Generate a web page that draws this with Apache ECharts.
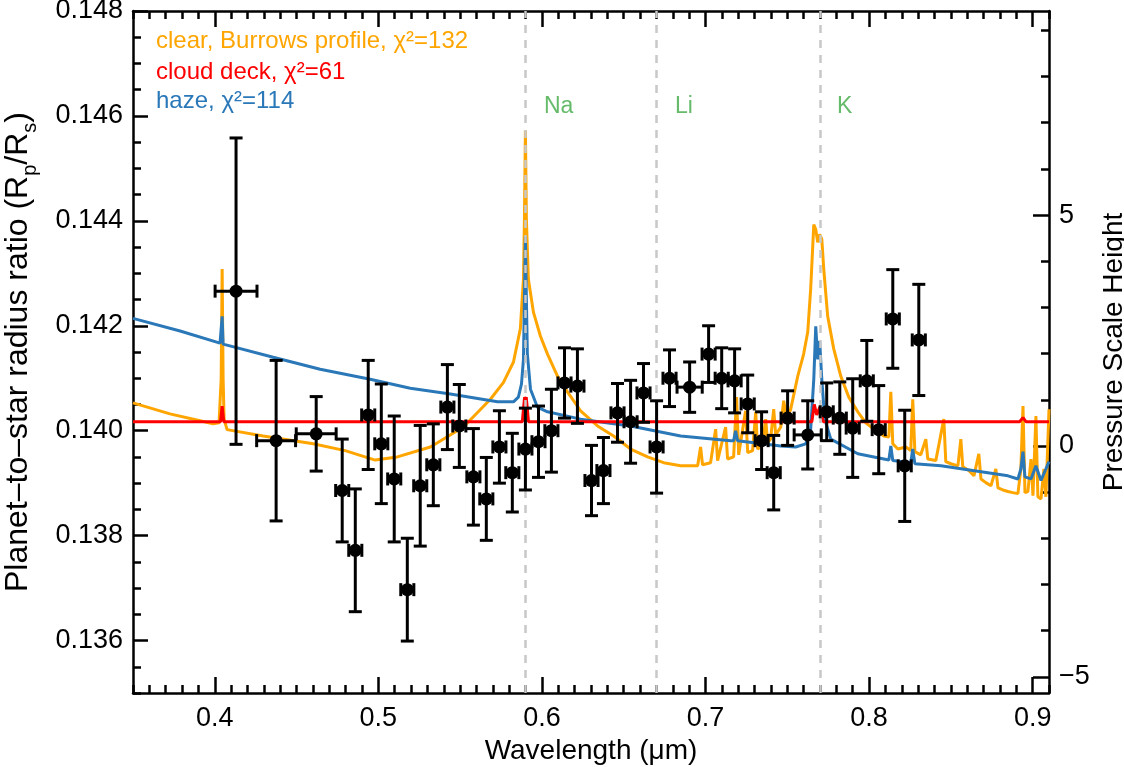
<!DOCTYPE html>
<html>
<head>
<meta charset="utf-8">
<script src="https://cdn.jsdelivr.net/npm/echarts@6/dist/echarts.min.js"></script>
<style>
html, body { margin: 0; padding: 0; background: #fff; }
#chart { width: 1124px; height: 767px; }
</style>
</head>
<body>
<div id="chart"></div>
<script>
// measured radius ratios (black points)
var wl = [0.4130, 0.4375, 0.4620, 0.4779, 0.4859, 0.4938, 0.5018, 0.5097, 0.5177, 0.5256,
  0.5336, 0.5422, 0.5495, 0.5581, 0.5660, 0.5740, 0.5819, 0.5899, 0.5979, 0.6058,
  0.6138, 0.6217, 0.6303, 0.6376, 0.6462, 0.6542, 0.6621, 0.6701, 0.6780, 0.6903,
  0.7019, 0.7099, 0.7178, 0.7258, 0.7343, 0.7417, 0.7502, 0.7625, 0.7741, 0.7821,
  0.7900, 0.7986, 0.8059, 0.8145, 0.8218, 0.8304];
var ratio = [0.14266, 0.13981, 0.13994, 0.13886, 0.13772, 0.14030, 0.13975, 0.13908, 0.13697, 0.13895,
  0.13935, 0.14045, 0.14009, 0.13912, 0.13870, 0.13969, 0.13920, 0.13965, 0.13979, 0.14000,
  0.14091, 0.14085, 0.13905, 0.13924, 0.14034, 0.14017, 0.14072, 0.13969, 0.14100, 0.14083,
  0.14146, 0.14100, 0.14095, 0.14051, 0.13981, 0.13920, 0.14024, 0.13992, 0.14036, 0.14024,
  0.14005, 0.14095, 0.14002, 0.14213, 0.13933, 0.14173];
var ratioErr = [0.00292, 0.00153, 0.00071, 0.00098, 0.00117, 0.00104, 0.00114, 0.00120, 0.00098, 0.00115,
  0.00078, 0.00081, 0.00079, 0.00092, 0.00079, 0.00069, 0.00075, 0.00078, 0.00068, 0.00079,
  0.00067, 0.00071, 0.00067, 0.00063, 0.00056, 0.00079, 0.00056, 0.00088, 0.00054, 0.00048,
  0.00054, 0.00058, 0.00061, 0.00055, 0.00055, 0.00071, 0.00052, 0.00065, 0.00055, 0.00069,
  0.00094, 0.00077, 0.00084, 0.00094, 0.00106, 0.00106];
var wlErr = [0.0128, 0.0119, 0.0122, 0.004, 0.004, 0.004, 0.004, 0.004, 0.004, 0.004,
  0.004, 0.004, 0.004, 0.004, 0.004, 0.004, 0.004, 0.004, 0.004, 0.004,
  0.004, 0.004, 0.004, 0.004, 0.004, 0.004, 0.004, 0.004, 0.004, 0.0077,
  0.004, 0.004, 0.004, 0.004, 0.004, 0.004, 0.004, 0.0083, 0.004, 0.004,
  0.004, 0.004, 0.004, 0.004, 0.004, 0.004];

// model spectra [wavelength, Rp/Rs]
var clearModel = [[0.3500,0.14053],[0.3726,0.14032],[0.3910,0.14019],[0.3990,0.14013],[0.4026,0.14015],
  [0.4039,0.14098],[0.4045,0.14308],[0.4051,0.14098],[0.4057,0.14022],[0.4075,0.14002],[0.4296,0.13990],
  [0.4602,0.13975],[0.4797,0.13962],[0.4981,0.13944],[0.5116,0.13950],[0.5318,0.13969],[0.5520,0.14007],
  [0.5685,0.14060],[0.5765,0.14092],[0.5826,0.14131],[0.5868,0.14194],[0.5887,0.14289],[0.5893,0.14403],
  [0.5899,0.14572],[0.5905,0.14403],[0.5917,0.14289],[0.5948,0.14226],[0.5991,0.14180],[0.6034,0.14146],
  [0.6095,0.14104],[0.6156,0.14074],[0.6236,0.14038],[0.6340,0.14009],[0.6438,0.13990],[0.6542,0.13965],
  [0.6646,0.13950],[0.6744,0.13939],[0.6848,0.13933],[0.6952,0.13933],[0.6970,0.13969],[0.6982,0.13935],
  [0.7031,0.13939],[0.7062,0.14003],[0.7074,0.13943],[0.7123,0.14007],[0.7135,0.13946],[0.7172,0.13950],
  [0.7190,0.14064],[0.7203,0.13954],[0.7245,0.14038],[0.7258,0.13958],[0.7288,0.13962],[0.7307,0.14036],
  [0.7319,0.13965],[0.7349,0.13973],[0.7368,0.14022],[0.7380,0.13977],[0.7398,0.13984],[0.7417,0.14041],
  [0.7429,0.13992],[0.7460,0.14007],[0.7478,0.14057],[0.7496,0.14022],[0.7521,0.14041],[0.7564,0.14104],
  [0.7600,0.14146],[0.7625,0.14188],[0.7643,0.14270],[0.7662,0.14393],[0.7674,0.14384],[0.7686,0.14359],
  [0.7698,0.14374],[0.7711,0.14365],[0.7723,0.14308],[0.7747,0.14218],[0.7784,0.14156],[0.7827,0.14104],
  [0.7876,0.14064],[0.7931,0.14036],[0.7980,0.14015],[0.8029,0.14003],[0.8090,0.13990],[0.8121,0.13988],
  [0.8133,0.14074],[0.8145,0.13975],[0.8176,0.13965],[0.8225,0.13969],[0.8255,0.13962],[0.8267,0.14060],
  [0.8280,0.13960],[0.8316,0.13954],[0.8347,0.13984],[0.8359,0.13946],[0.8408,0.13943],[0.8457,0.14022],
  [0.8469,0.13941],[0.8500,0.13937],[0.8543,0.13933],[0.8561,0.13984],[0.8573,0.13931],[0.8610,0.13924],
  [0.8641,0.13914],[0.8671,0.13956],[0.8684,0.13908],[0.8714,0.13901],[0.8745,0.13895],[0.8775,0.13927],
  [0.8788,0.13891],[0.8818,0.13887],[0.8849,0.13884],[0.8879,0.13882],[0.8910,0.13880],[0.8928,0.13927],
  [0.8941,0.14047],[0.8953,0.13882],[0.8971,0.13884],[0.8990,0.13946],[0.9002,0.13876],[0.9020,0.14028],
  [0.9032,0.13874],[0.9051,0.13870],[0.9069,0.13927],[0.9081,0.13874],[0.9100,0.14041]];

var hazeModel = [[0.3500,0.14214],[0.3788,0.14190],[0.4032,0.14167],[0.4039,0.14166],[0.4045,0.14218],
  [0.4051,0.14165],[0.4357,0.14140],[0.4644,0.14117],[0.4950,0.14098],[0.5195,0.14081],[0.5440,0.14070],
  [0.5728,0.14055],[0.5826,0.14055],[0.5856,0.14064],[0.5875,0.14089],[0.5887,0.14136],[0.5893,0.14251],
  [0.5899,0.14370],[0.5905,0.14251],[0.5911,0.14146],[0.5930,0.14079],[0.5972,0.14045],[0.6034,0.14036],
  [0.6236,0.14022],[0.6542,0.14009],[0.6848,0.13990],[0.7154,0.13981],[0.7172,0.13981],[0.7184,0.14000],
  [0.7196,0.13981],[0.7460,0.13971],[0.7551,0.13969],[0.7613,0.13975],[0.7643,0.14003],[0.7662,0.14098],
  [0.7674,0.14199],[0.7686,0.14136],[0.7698,0.14171],[0.7711,0.14098],[0.7729,0.14022],[0.7766,0.13984],
  [0.7931,0.13956],[0.8121,0.13944],[0.8133,0.13971],[0.8145,0.13943],[0.8255,0.13939],[0.8267,0.13965],
  [0.8280,0.13937],[0.8439,0.13933],[0.8849,0.13914],[0.8910,0.13908],[0.8928,0.13927],[0.8941,0.13960],
  [0.8953,0.13912],[0.8990,0.13908],[0.9020,0.13933],[0.9051,0.13905],[0.9100,0.13941]];

var cloudModel = [[0.3500,0.14017],[0.4035,0.14017],[0.4045,0.14047],[0.4055,0.14017],[0.5880,0.14017],
  [0.5894,0.14064],[0.5899,0.14055],[0.5904,0.14064],[0.5918,0.14017],[0.7650,0.14017],[0.7665,0.14050],
  [0.7680,0.14030],[0.7699,0.14045],[0.7720,0.14017],[0.8920,0.14017],[0.8941,0.14025],[0.8960,0.14017],
  [0.9100,0.14017]];

var lineWl = [0.589, 0.6708, 0.769];
var lineNames = ['Na', 'Li', 'K'];

var xMajor = [0.4, 0.5, 0.6, 0.7, 0.8, 0.9];
var yMajor = [0.136, 0.138, 0.140, 0.142, 0.144, 0.146, 0.148];
var hMajor = [-5, 0, 5];
var hMinor = [-5, -4, -3, -2, -1, 0, 1, 2, 3, 4, 5, 6, 7, 8, 9];

var FONT = '"Liberation Sans", Arial, Helvetica, sans-serif';
var chart = echarts.init(document.getElementById('chart'));

var points = wl.map(function (w, i) {
  return [w, ratio[i], ratioErr[i], wlErr[i]];
});

function errorBar(params, api) {
  var x = api.value(0), y = api.value(1), ye = api.value(2), xe = api.value(3);
  var c = api.coord([x, y]);
  var t = api.coord([x, y + ye]), b = api.coord([x, y - ye]);
  var l = api.coord([x - xe, y]), r = api.coord([x + xe, y]);
  var st = { stroke: '#000', lineWidth: 3, fill: null };
  var cap = 6.5;
  return {
    type: 'group',
    children: [
      { type: 'line', shape: { x1: c[0], y1: t[1], x2: c[0], y2: b[1] }, style: st },
      { type: 'line', shape: { x1: c[0] - cap, y1: t[1], x2: c[0] + cap, y2: t[1] }, style: st },
      { type: 'line', shape: { x1: c[0] - cap, y1: b[1], x2: c[0] + cap, y2: b[1] }, style: st },
      { type: 'line', shape: { x1: l[0], y1: c[1], x2: r[0], y2: c[1] }, style: st },
      { type: 'line', shape: { x1: l[0], y1: c[1] - cap, x2: l[0], y2: c[1] + cap }, style: st },
      { type: 'line', shape: { x1: r[0], y1: c[1] - cap, x2: r[0], y2: c[1] + cap }, style: st },
      { type: 'circle', shape: { cx: c[0], cy: c[1], r: 6.5 }, style: { fill: '#000' } }
    ]
  };
}

var axisLine = { show: true, onZero: false, lineStyle: { color: '#000', width: 2.5 } };
var tickStyle = { color: '#000', width: 2.5 };

function minorAxis(pos) {
  return {
    type: 'value', position: pos, min: 0.35, max: 0.91, interval: 0.01,
    axisLine: { show: false, onZero: false },
    axisTick: { show: true, inside: true, length: 8, lineStyle: tickStyle },
    axisLabel: { show: false }, splitLine: { show: false }
  };
}

chart.setOption({
  animation: false,
  backgroundColor: '#fff',
  grid: { left: 133, right: 75, top: 11, bottom: 74, containLabel: false, outerBoundsMode: 'none' },
  xAxis: [
    {
      type: 'value', position: 'bottom', min: 0.35, max: 0.91,
      axisLine: axisLine,
      axisTick: { show: true, inside: true, length: 16, customValues: xMajor, lineStyle: tickStyle },
      axisLabel: {
        customValues: xMajor, color: '#000', fontSize: 27, fontFamily: FONT, margin: 12,
        formatter: function (v) { return v.toFixed(1); }
      },
      splitLine: { show: false },
      name: 'Wavelength (\u03bcm)', nameLocation: 'middle', nameGap: 42,
      nameTextStyle: { color: '#000', fontSize: 28, fontFamily: FONT }
    },
    minorAxis('bottom'),
    {
      type: 'value', position: 'top', min: 0.35, max: 0.91,
      axisLine: axisLine,
      axisTick: { show: true, inside: true, length: 16, customValues: xMajor, lineStyle: tickStyle },
      axisLabel: { show: false }, splitLine: { show: false }
    },
    minorAxis('top')
  ],
  yAxis: [
    {
      type: 'value', position: 'left', min: 0.135, max: 0.148,
      axisLine: axisLine,
      axisTick: { show: true, inside: true, length: 15, customValues: yMajor, lineStyle: tickStyle },
      axisLabel: {
        customValues: yMajor, color: '#000', fontSize: 27, fontFamily: FONT, margin: 10,
        formatter: function (v) { return v.toFixed(3); }
      },
      splitLine: { show: false },
      name: 'Planet\u2013to\u2013star radius ratio (R{sub|p}/R{sub|s})',
      nameLocation: 'middle', nameGap: 93, nameRotate: 90,
      nameTextStyle: {
        color: '#000', fontSize: 32, fontFamily: FONT,
        rich: { sub: { fontSize: 20, fontFamily: FONT, color: '#000', verticalAlign: 'bottom', lineHeight: 44 } }
      }
    },
    {
      type: 'value', position: 'left', min: 0.135, max: 0.148, interval: 0.0005,
      axisLine: { show: false, onZero: false },
      axisTick: { show: true, inside: true, length: 8, lineStyle: tickStyle },
      axisLabel: { show: false }, splitLine: { show: false }
    },
    {
      type: 'value', position: 'right', min: -5.35, max: 9.42,
      axisLine: axisLine,
      axisTick: { show: true, inside: true, length: 16, customValues: hMajor, lineStyle: tickStyle },
      axisLabel: {
        customValues: hMajor, color: '#000', fontSize: 27, fontFamily: FONT, margin: 10,
        formatter: function (v) { return v < 0 ? '\u2212' + (-v) : String(v); }
      },
      splitLine: { show: false },
      name: 'Pressure Scale Height', nameLocation: 'middle', nameGap: 42, nameRotate: 90,
      nameTextStyle: { color: '#000', fontSize: 28, fontFamily: FONT }
    },
    {
      type: 'value', position: 'right', min: -5.35, max: 9.42,
      axisLine: { show: false, onZero: false },
      axisTick: { show: true, inside: true, length: 8, customValues: hMinor, lineStyle: tickStyle },
      axisLabel: { show: false }, splitLine: { show: false }
    }
  ],
  series: [
    {
      // dashed atomic line markers
      type: 'line', data: [], z: 1, silent: true,
      markLine: {
        silent: true, symbol: 'none', label: { show: false },
        lineStyle: { color: '#c8c8c8', type: [8, 7], width: 2.5 },
        data: lineWl.map(function (w) { return { xAxis: w }; })
      }
    },
    {
      name: 'clear', type: 'line', data: clearModel, showSymbol: false, z: 2,
      lineStyle: { color: '#ffa500', width: 3 }, itemStyle: { color: '#ffa500' }
    },
    {
      name: 'haze', type: 'line', data: hazeModel, showSymbol: false, z: 3,
      lineStyle: { color: '#2a78b8', width: 3 }, itemStyle: { color: '#2a78b8' }
    },
    {
      name: 'cloud', type: 'line', data: cloudModel, showSymbol: false, z: 4,
      lineStyle: { color: '#ff0000', width: 3 }, itemStyle: { color: '#ff0000' }
    },
    {
      type: 'custom', renderItem: errorBar, data: points, z: 5,
      encode: { x: 0, y: 1 }
    }
  ],
  graphic: [
    { type: 'text', left: 156, top: 29, style: { text: 'clear, Burrows profile, \u03c7\u00b2=132', fill: '#ffa500', font: '24px ' + FONT } },
    { type: 'text', left: 156, top: 60, style: { text: 'cloud deck, \u03c7\u00b2=61', fill: '#ff0000', font: '24px ' + FONT } },
    { type: 'text', left: 156, top: 89, style: { text: 'haze, \u03c7\u00b2=114', fill: '#2a78b8', font: '24px ' + FONT } },
    { type: 'text', left: 544, top: 95, style: { text: lineNames[0], fill: '#66bb6a', font: '23px ' + FONT } },
    { type: 'text', left: 675, top: 95, style: { text: lineNames[1], fill: '#66bb6a', font: '23px ' + FONT } },
    { type: 'text', left: 837, top: 95, style: { text: lineNames[2], fill: '#66bb6a', font: '23px ' + FONT } }
  ]
});
</script>
</body>
</html>
